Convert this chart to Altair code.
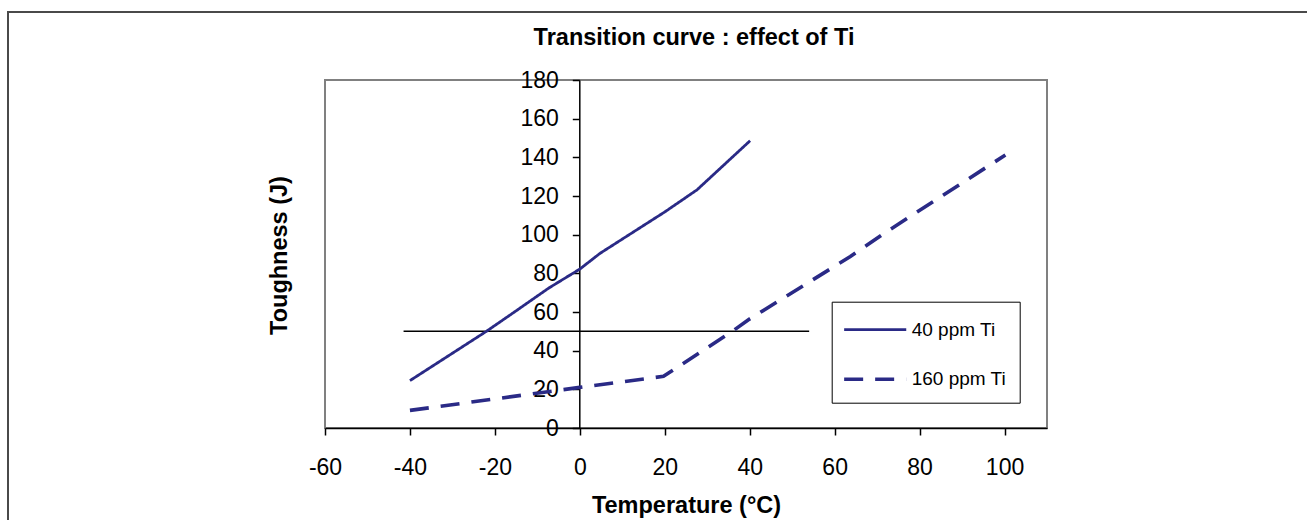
import altair as alt
import pandas as pd

# ---- data ----
SERIES = ["40 ppm Ti", "160 ppm Ti"]
TEMP_40 = [-40, -22, -15.2, -7.3, 0, 4.8, 20.1, 27.6, 40.1]
TOUGH_40 = [24.5, 50, 60.3, 72.4, 82.2, 90.4, 111.9, 123.2, 148.6]
TEMP_160 = [-40, 0, 19.7, 36.1, 39.7, 63.7, 72.3, 100.2]
TOUGH_160 = [9.1, 21, 26.7, 50.3, 56, 88.7, 101.6, 141.2]
REF_X = [-41.5, 54]
REF_Y = 50
X_TICKS = [-60, -40, -20, 0, 20, 40, 60, 80, 100]
Y_TICKS = [0, 20, 40, 60, 80, 100, 120, 140, 160, 180]

NAVY = "#2a2a86"
FONT = "Liberation Sans"

rows = []
for s, xs, ys in [(SERIES[0], TEMP_40, TOUGH_40), (SERIES[1], TEMP_160, TOUGH_160)]:
    for i, (x, y) in enumerate(zip(xs, ys)):
        rows.append({"series": s, "temp": x, "tough": y, "order": i})
df = pd.DataFrame(rows)
ref = pd.DataFrame({"x1": [REF_X[0]], "x2": [REF_X[1]], "y": [REF_Y]})

xscale = alt.Scale(domain=[-60, 110], nice=False, zero=False)
yscale = alt.Scale(domain=[0, 180], nice=False, zero=False)

xaxis = alt.Axis(values=X_TICKS, title="Temperature (°C)", grid=False,
                 labelExpr="'' + datum.value", labelFlush=False, labelOverlap=False,
                 domainColor="black", domainWidth=1.5, tickColor="black",
                 tickWidth=1.5, tickSize=7, labelPadding=21,
                 labelFontSize=23, labelFont=FONT, labelColor="black",
                 titleFont=FONT, titleFontSize=23.5, titleFontWeight="bold",
                 titleColor="black", titleBaseline="alphabetic", titleY=84)
yaxis = alt.Axis(values=Y_TICKS, title="Toughness (J)", grid=False, offset=-254.3,
                 labelExpr="'' + datum.value", labelFlush=False, labelOverlap=False,
                 domainColor="black", domainWidth=1.5, tickColor="black",
                 tickWidth=1.5, tickSize=7, labelPadding=14,
                 labelFontSize=23, labelFont=FONT, labelColor="black",
                 titleFont=FONT, titleFontSize=23.5, titleFontWeight="bold",
                 titleColor="black", titleAngle=270, titleBaseline="middle",
                 titleX=-299.5, titleY=175)

lines = alt.Chart(df).mark_line(color=NAVY, strokeCap="butt").encode(
    x=alt.X("temp:Q", scale=xscale, axis=xaxis),
    y=alt.Y("tough:Q", scale=yscale, axis=yaxis),
    strokeDash=alt.StrokeDash("series:N",
                              scale=alt.Scale(domain=SERIES, range=[[1, 0], [19, 12]]),
                              legend=alt.Legend(title=None, orient="none", legendX=506.7,
                                                legendY=221.7, symbolType="M-2.3,0H2.3",
                                                symbolSize=729, symbolStrokeWidth=3,
                                                symbolStrokeColor=NAVY, symbolOffset=15,
                                                labelFont=FONT,
                                                labelFontSize=19, labelColor="black",
                                                labelOffset=21, padding=13, rowPadding=24,
                                                strokeColor="black", fillColor="white")),
    strokeWidth=alt.StrokeWidth("series:N",
                                scale=alt.Scale(domain=SERIES, range=[2.8, 3.6]),
                                legend=None),
    order="order:Q",
)

rule = alt.Chart(ref).mark_rule(color="black", strokeWidth=1.5).encode(
    x=alt.X("x1:Q", scale=xscale, axis=xaxis), x2="x2:Q",
    y=alt.Y("y:Q", scale=yscale, axis=yaxis)
)

frame = alt.Chart(ref).mark_rect(fillOpacity=0, stroke="#4a4a4a", strokeWidth=2).encode(
    x=alt.value(-317), x2=alt.value(1200), y=alt.value(-68), y2=alt.value(600)
)

chart = alt.layer(frame, rule, lines).properties(
    width=722, height=348,
    autosize=alt.AutoSizeParams(type="none"),
    padding={"left": 325, "top": 80, "right": 260, "bottom": 92},
    view=alt.ViewBackground(stroke="#808080", strokeWidth=2),
    title=alt.TitleParams(text="Transition curve : effect of Ti", font=FONT, fontSize=23.5,
                          fontWeight="bold", color="black", anchor="middle", frame="group",
                          dx=8, offset=-57, baseline="alphabetic"),
).configure_view(stroke="#808080", strokeWidth=2).configure(background="white")

chart.save("out.html", embed_options={"renderer": "svg", "actions": False})
